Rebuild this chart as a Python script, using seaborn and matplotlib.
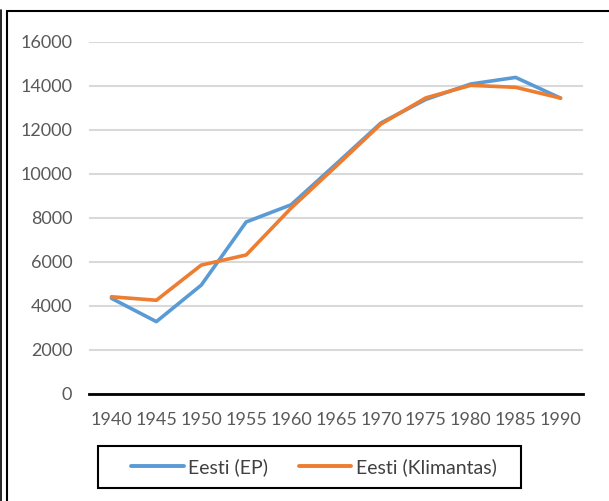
import matplotlib
matplotlib.use("Agg")
import matplotlib.pyplot as plt
from matplotlib.lines import Line2D
from matplotlib.patches import Rectangle
import seaborn as sns
import pandas as pd

years = [1940, 1945, 1950, 1955, 1960, 1965, 1970, 1975, 1980, 1985, 1990]
eesti_ep = [4350, 3290, 4950, 7820, 8600, 10450, 12320, 13390, 14090, 14390, 13450]
eesti_klimantas = [4420, 4260, 5860, 6320, 8450, 10350, 12270, 13460, 14030, 13940, 13450]
series_names = ["Eesti (EP)", "Eesti (Klimantas)"]
y_ticks = [0, 2000, 4000, 6000, 8000, 10000, 12000, 14000, 16000]

df = pd.DataFrame({
    "year": years * 2,
    "value": eesti_ep + eesti_klimantas,
    "series": [series_names[0]] * len(years) + [series_names[1]] * len(years),
})

sns.set_theme(style="white")
plt.rcParams["font.family"] = ["Lato", "DejaVu Sans"]

W, H = 609, 501
fig = plt.figure(figsize=(W / 100, H / 100), dpi=100)
ax = fig.add_axes([89 / W, (H - 394) / H, (583 - 89) / W, (394 - 42) / H])

palette = {series_names[0]: "#5B9BD5", series_names[1]: "#ED7D31"}
sns.lineplot(data=df, x="year", y="value", hue="series", palette=palette,
             linewidth=2.6, ax=ax, legend=False, zorder=3)

ax.set_xlim(years[0] - 2.5, years[-1] + 2.5)
ax.set_ylim(0, 16000)
ax.set_xticks(years)
ax.set_xticklabels([str(y) for y in years])
ax.set_yticks(y_ticks)
ax.set_yticklabels([str(v) for v in y_ticks])
ax.set_xlabel("")
ax.set_ylabel("")
ax.yaxis.grid(True, color="#D9D9D9", linewidth=1.5)
ax.xaxis.grid(False)
for s in ["top", "right", "left"]:
    ax.spines[s].set_visible(False)
ax.spines["bottom"].set_color("black")
ax.spines["bottom"].set_linewidth(2)
ax.spines["bottom"].set_zorder(4)
ax.tick_params(axis="both", length=0, labelsize=13, colors="#595959")
ax.tick_params(axis="x", pad=13)
ax.tick_params(axis="y", pad=12)

handles = [Line2D([0], [0], color=palette[n], linewidth=2.8) for n in series_names]
leg = fig.legend(handles, series_names, loc="center", bbox_to_anchor=(314 / W, (H - 467) / H),
                 ncol=2, frameon=False, fontsize=14, handlelength=2.7, handletextpad=0.25,
                 columnspacing=1.55, borderpad=0.3)
for t in leg.get_texts():
    t.set_color("#404040")

fig.add_artist(Rectangle((98 / W, (H - 488) / H), (521 - 98) / W, 42 / H, fill=False,
                         edgecolor="black", linewidth=1.5, transform=fig.transFigure))

# outer frame lines
fig.add_artist(Line2D([7 / W, 7 / W], [0, (H - 11) / H], color="black", linewidth=1.5, transform=fig.transFigure))
fig.add_artist(Line2D([7 / W, 1], [(H - 11) / H, (H - 11) / H], color="black", linewidth=1.5, transform=fig.transFigure))
fig.add_artist(Line2D([0.8 / W, 0.8 / W], [0, (H - 10) / H], color="black", linewidth=1.2, transform=fig.transFigure))

fig.savefig("out.png", dpi=100)
